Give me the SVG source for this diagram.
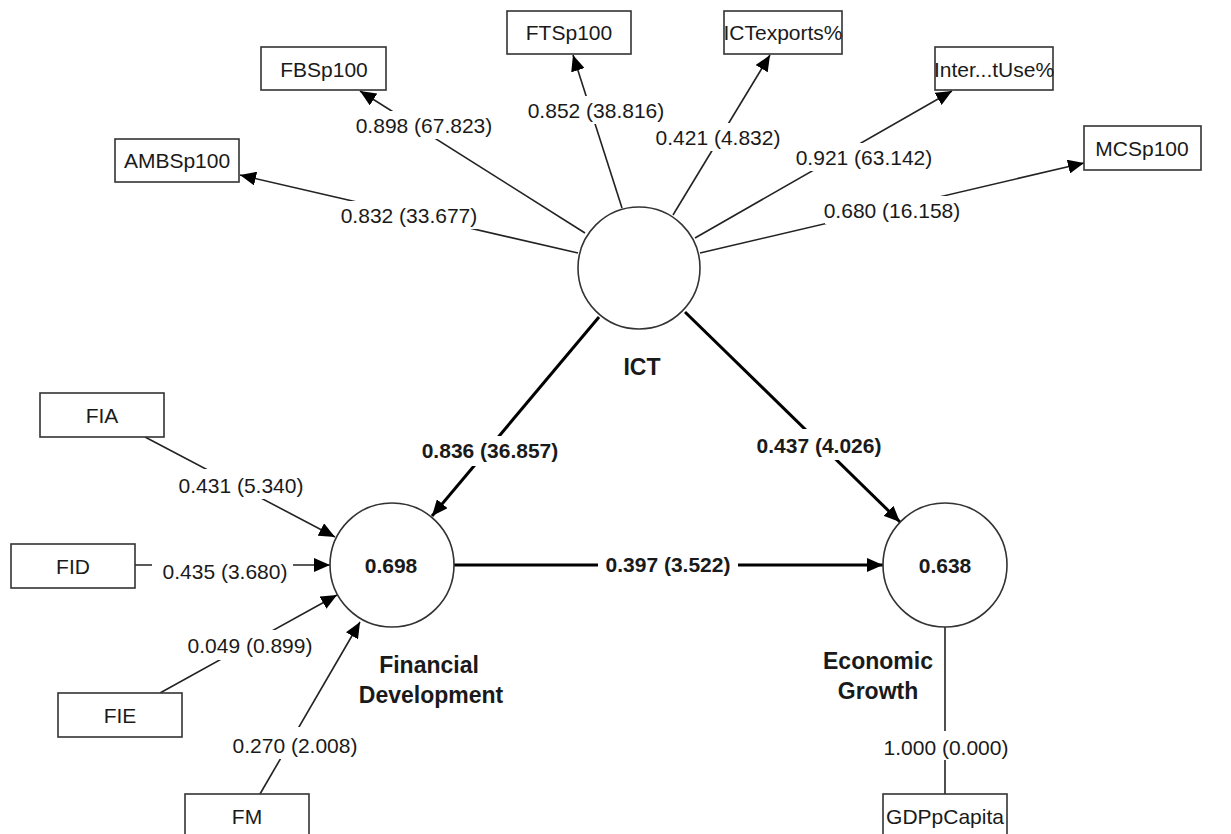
<svg xmlns="http://www.w3.org/2000/svg" width="1231" height="834" viewBox="0 0 1231 834">
<defs>
<marker id="ah" markerUnits="userSpaceOnUse" markerWidth="17" markerHeight="14" refX="16" refY="7" orient="auto">
<path d="M0,0 L16,7 L0,14 z" fill="#000"/>
</marker>
<style>
.box{fill:#fff;stroke:#333;stroke-width:1.6}
.lv{fill:#fff;stroke:#333;stroke-width:1.6}
.t{font-family:"Liberation Sans",Arial,sans-serif;font-size:21px;fill:#1a1a1a;text-anchor:middle}
.b{font-weight:bold}
.n{font-family:"Liberation Sans",Arial,sans-serif;font-size:23px;font-weight:bold;fill:#1a1a1a;text-anchor:middle}
.thin{stroke:#222;stroke-width:1.6;fill:none}
.thick{stroke:#000;stroke-width:3;fill:none}
.bg{fill:#fff}
</style>
</defs>
<rect width="1231" height="834" fill="#fff"/>

<g id="connectors">
<line class="thin" x1="578" y1="253" x2="240" y2="175" marker-end="url(#ah)"/>
<line class="thin" x1="585" y1="233" x2="360" y2="91" marker-end="url(#ah)"/>
<line class="thin" x1="622" y1="208" x2="573" y2="55" marker-end="url(#ah)"/>
<line class="thin" x1="673" y1="215" x2="770" y2="55" marker-end="url(#ah)"/>
<line class="thin" x1="695" y1="238" x2="952" y2="91" marker-end="url(#ah)"/>
<line class="thin" x1="700" y1="253" x2="1084" y2="163" marker-end="url(#ah)"/>
<line class="thick" x1="599" y1="317" x2="432" y2="516" marker-end="url(#ah)"/>
<line class="thick" x1="685" y1="312" x2="900" y2="522" marker-end="url(#ah)"/>
<line class="thick" x1="454" y1="565" x2="883" y2="565" marker-end="url(#ah)"/>
<line class="thin" x1="145" y1="437" x2="335" y2="537" marker-end="url(#ah)"/>
<line class="thin" x1="135" y1="565" x2="330" y2="565" marker-end="url(#ah)"/>
<line class="thin" x1="160" y1="693" x2="337" y2="595" marker-end="url(#ah)"/>
<line class="thin" x1="260" y1="794" x2="360" y2="622" marker-end="url(#ah)"/>
<line class="thin" x1="945" y1="627" x2="945" y2="794"/>

<rect class="bg" x="340" y="201" width="138" height="28"/>
<text class="t" x="409" y="223">0.832 (33.677)</text>
<rect class="bg" x="354" y="111" width="140" height="28"/>
<text class="t" x="424" y="133">0.898 (67.823)</text>
<rect class="bg" x="526" y="96" width="140" height="28"/>
<text class="t" x="596" y="118">0.852 (38.816)</text>
<rect class="bg" x="654" y="123" width="128" height="28"/>
<text class="t" x="718" y="145">0.421 (4.832)</text>
<rect class="bg" x="797" y="143" width="134" height="28"/>
<text class="t" x="864" y="165">0.921 (63.142)</text>
<rect class="bg" x="825" y="196" width="134" height="28"/>
<text class="t" x="892" y="218">0.680 (16.158)</text>

<rect class="bg" x="418" y="436" width="144" height="30"/>
<text class="t b" x="490" y="458">0.836 (36.857)</text>
<rect class="bg" x="754" y="429" width="132" height="31"/>
<text class="t b" x="819" y="453">0.437 (4.026)</text>
<rect class="bg" x="598" y="550" width="140" height="28"/>
<text class="t b" x="668" y="572">0.397 (3.522)</text>

<rect class="bg" x="176" y="469" width="130" height="30"/>
<text class="t" x="241" y="493">0.431 (5.340)</text>
<rect class="bg" x="152" y="555" width="141" height="28"/>
<text class="t" x="225" y="579">0.435 (3.680)</text>
<rect class="bg" x="184" y="630" width="132" height="30"/>
<text class="t" x="250" y="653">0.049 (0.899)</text>
<rect class="bg" x="229" y="727" width="132" height="32"/>
<text class="t" x="295" y="753">0.270 (2.008)</text>
<rect class="bg" x="880" y="731" width="132" height="29"/>
<text class="t" x="946" y="755">1.000 (0.000)</text>
</g>

<g id="ICT">
<circle class="lv" cx="639" cy="268" r="61"/>
<text class="n" x="642" y="375">ICT</text>
</g>
<g id="FinancialDevelopment">
<circle class="lv" cx="392" cy="565" r="62"/>
<text class="t b" x="391" y="573">0.698</text>
<text class="n" x="429" y="673">Financial</text>
<text class="n" x="431" y="703">Development</text>
</g>
<g id="EconomicGrowth">
<circle class="lv" cx="945" cy="565" r="62"/>
<text class="t b" x="945" y="573">0.638</text>
<text class="n" x="878" y="669">Economic</text>
<text class="n" x="878" y="699">Growth</text>
</g>

<g id="AMBSp100"><rect class="box" x="115" y="139" width="124" height="43"/><text class="t" x="177" y="168">AMBSp100</text></g>
<g id="FBSp100"><rect class="box" x="261" y="47" width="125" height="43"/><text class="t" x="324" y="77">FBSp100</text></g>
<g id="FTSp100"><rect class="box" x="507" y="11" width="124" height="43"/><text class="t" x="569" y="40">FTSp100</text></g>
<g id="ICTexports"><rect class="box" x="724" y="11" width="118" height="43"/><text class="t" x="783" y="40">ICTexports%</text></g>
<g id="InternetUse"><rect class="box" x="935" y="47" width="118" height="43"/><text class="t" x="994" y="77">Inter...tUse%</text></g>
<g id="MCSp100"><rect class="box" x="1084" y="126" width="117" height="44"/><text class="t" x="1142" y="156">MCSp100</text></g>
<g id="FIA"><rect class="box" x="40" y="393" width="124" height="44"/><text class="t" x="102" y="423">FIA</text></g>
<g id="FID"><rect class="box" x="11" y="544" width="124" height="44"/><text class="t" x="73" y="574">FID</text></g>
<g id="FIE"><rect class="box" x="58" y="693" width="124" height="44"/><text class="t" x="120" y="723">FIE</text></g>
<g id="FM"><rect class="box" x="185" y="794" width="124" height="44"/><text class="t" x="247" y="824">FM</text></g>
<g id="GDPpCapita"><rect class="box" x="883" y="794" width="124" height="44"/><text class="t" x="945" y="824">GDPpCapita</text></g>
</svg>
